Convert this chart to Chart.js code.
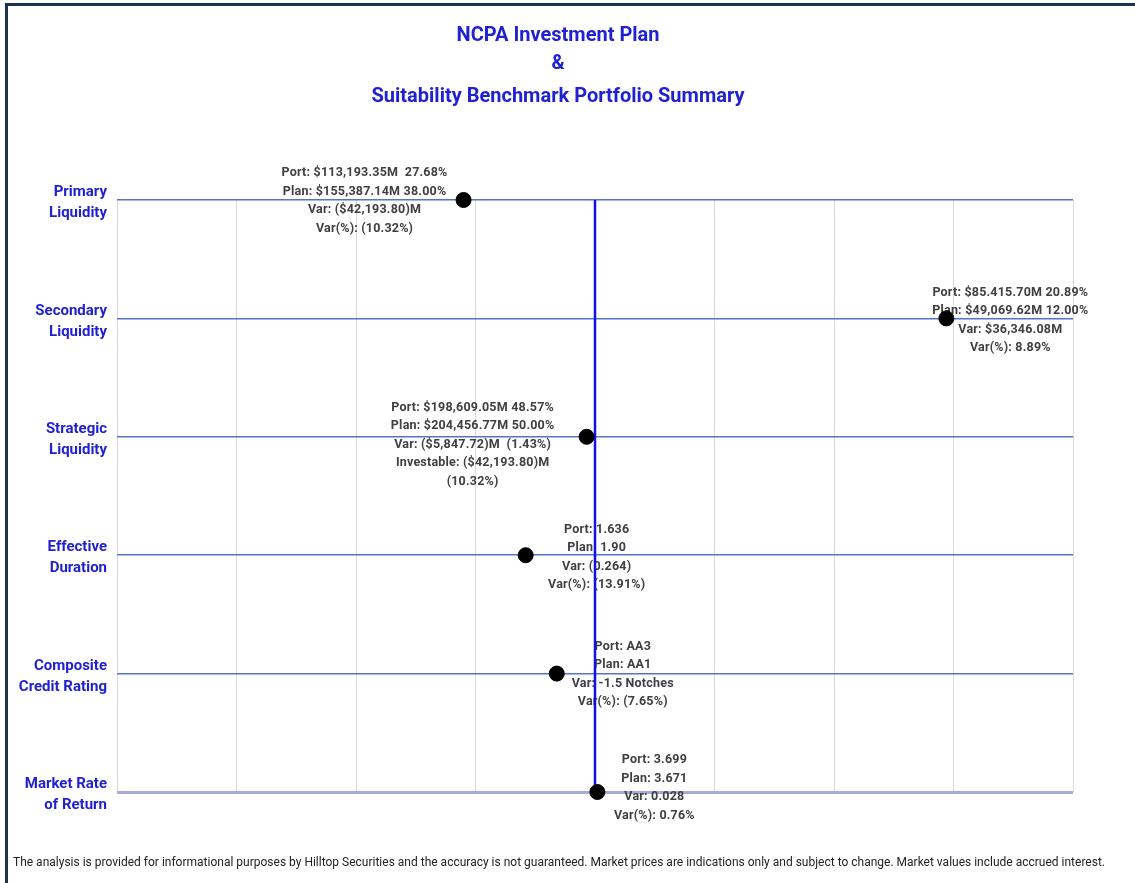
<!DOCTYPE html>
<html>
<head>
<meta charset="utf-8">
<title>NCPA Investment Plan</title>
<script src="https://cdn.jsdelivr.net/npm/chart.js@4/dist/chart.umd.min.js"></script>
<style>
  html, body { margin: 0; padding: 0; background: #fff; }
  #wrap { position: relative; width: 1135px; height: 883px; }
</style>
</head>
<body>
<div id="wrap"><canvas id="suitabilityChart" width="1135" height="883"></canvas></div>
<script>
// rows, top to bottom
const categoryLabels = [
  ["Primary", "Liquidity"],
  ["Secondary", "Liquidity"],
  ["Strategic", "Liquidity"],
  ["Effective", "Duration"],
  ["Composite", "Credit Rating"],
  ["Market Rate", "of Return"],
];

// where the portfolio sits against plan (plan = 0)
const portfolioPosition = [-1.1, 2.94, -0.07, -0.58, -0.32, 0.02];
const planPosition = 0;
const xTickValues = [-4, -3, -2, -1, 0, 1, 2, 3, 4];

const portfolioNotes = [
  ["Port: $113,193.35M  27.68%", "Plan: $155,387.14M 38.00%", "Var: ($42,193.80)M", "Var(%): (10.32%)"],
  ["Port: $85.415.70M 20.89%", "Plan: $49,069.62M 12.00%", "Var: $36,346.08M", "Var(%): 8.89%"],
  ["Port: $198,609.05M 48.57%", "Plan: $204,456.77M 50.00%", "Var: ($5,847.72)M  (1.43%)", "Investable: ($42,193.80)M", "(10.32%)"],
  ["Port: 1.636", "Plan: 1.90", "Var: (0.264)", "Var(%): (13.91%)"],
  ["Port: AA3", "Plan: AA1", "Var: -1.5 Notches", "Var(%): (7.65%)"],
  ["Port: 3.699", "Plan: 3.671", "Var: 0.028", "Var(%): 0.76%"],
];

const titleLines = ["NCPA Investment Plan", "&", "Suitability Benchmark Portfolio Summary"];
const footerText = "The analysis is provided for informational purposes by Hilltop Securities and the accuracy is not guaranteed. Market prices are indications only and subject to change. Market values include accrued interest.";

// pixel nudges for each note block, relative to its point
const noteOffsets = [[-99, 1], [64, 2], [-114, 8], [71, 2], [66, 1], [57, -4]];

const blue = "#2121d4";

const framePlugin = {
  id: "frame",
  beforeDraw(chart) {
    const { ctx } = chart;
    ctx.save();
    ctx.fillStyle = "#ffffff";
    ctx.fillRect(0, 0, chart.width, chart.height);
    ctx.fillStyle = "#1e324f";
    ctx.fillRect(5, 3, chart.width - 5, 3);
    ctx.fillRect(5, 3, 3, chart.height - 3);

    ctx.fillStyle = blue;
    ctx.textAlign = "center";
    ctx.textBaseline = "middle";
    ctx.font = "bold 20px Roboto";
    const titleY = [35, 63, 96];
    const titleW = [207, 14, 386];
    titleLines.forEach((line, i) => {
      ctx.fillText(line, 558, titleY[i] + 1, titleW[i]);
    });

    ctx.fillStyle = "#222222";
    ctx.textAlign = "left";
    ctx.font = "12.3px Roboto";
    ctx.fillText(footerText, 13, 863, 1092);
    ctx.restore();
  },
};

const notesPlugin = {
  id: "notes",
  beforeDatasetsDraw(chart) {
    const { ctx } = chart;
    const points = chart.getDatasetMeta(0).data;
    ctx.save();
    ctx.fillStyle = "#404040";
    ctx.font = "bold 12.5px Roboto";
    ctx.letterSpacing = "0.2px";
    ctx.textAlign = "center";
    ctx.textBaseline = "middle";
    points.forEach((pt, i) => {
      const lines = portfolioNotes[i];
      const lineH = 18.5;
      const cx = pt.x + noteOffsets[i][0];
      const top = pt.y + noteOffsets[i][1] - ((lines.length - 1) * lineH) / 2;
      lines.forEach((line, j) => {
        ctx.fillText(line, cx, top + j * lineH);
      });
    });
    ctx.restore();
  },
};

new Chart(document.getElementById("suitabilityChart"), {
  type: "scatter",
  data: {
    datasets: [
      {
        label: "Portfolio",
        data: portfolioPosition.map((v, i) => ({ x: v, y: i })),
        backgroundColor: "#000000",
        borderColor: "#000000",
        pointRadius: 7.5,
        pointHoverRadius: 7.5,
        clip: false,
      },
      {
        type: "line",
        label: "Plan",
        data: [
          { x: planPosition, y: 0 },
          { x: planPosition, y: categoryLabels.length - 1 },
        ],
        borderColor: "#1010ee",
        borderWidth: 2.5,
        pointRadius: 0,
        showLine: true,
        clip: false,
      },
    ],
  },
  options: {
    responsive: false,
    animation: false,
    events: [],
    layout: {
      padding: { left: 0, right: 62, top: 200, bottom: 91 },
    },
    plugins: {
      legend: { display: false },
      title: { display: false },
      tooltip: { enabled: false },
    },
    scales: {
      x: {
        type: "linear",
        min: xTickValues[0],
        max: xTickValues[xTickValues.length - 1],
        afterBuildTicks(scale) {
          scale.ticks = xTickValues.map((v) => ({ value: v }));
        },
        afterFit(scale) {
          scale.height = 0;
        },
        ticks: { display: false },
        grid: {
          color: "#d9d9d9",
          lineWidth: 1,
          drawTicks: false,
        },
        border: { display: false },
      },
      y: {
        type: "linear",
        reverse: true,
        min: 0,
        max: categoryLabels.length - 1,
        afterFit(scale) {
          scale.width = 117;
        },
        ticks: {
          stepSize: 1,
          padding: 10,
          labelOffset: 3,
          color: blue,
          font: { family: "Roboto", size: 15, weight: "bold", lineHeight: 1.4 },
          callback(value) {
            return categoryLabels[value];
          },
        },
        grid: {
          drawTicks: false,
          color(ctx) {
            return ctx.tick && ctx.tick.value === categoryLabels.length - 1 ? "#a9a9dc" : "#5573c8";
          },
          lineWidth(ctx) {
            return ctx.tick && ctx.tick.value === categoryLabels.length - 1 ? 3 : 1.5;
          },
        },
        border: { display: false },
      },
    },
  },
  plugins: [framePlugin, notesPlugin],
});
</script>
</body>
</html>
